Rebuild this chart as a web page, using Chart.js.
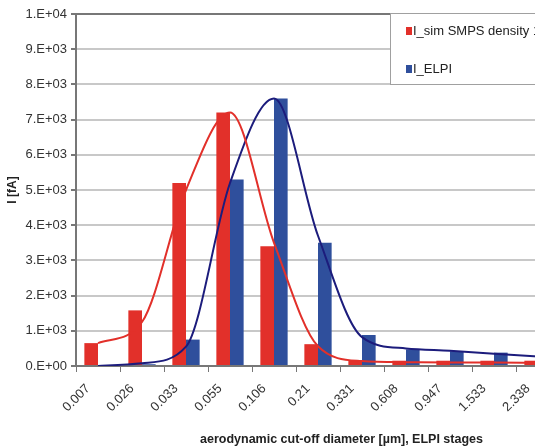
<!DOCTYPE html>
<html>
<head>
<meta charset="utf-8">
<script src="https://cdn.jsdelivr.net/npm/chart.js@4"></script>
<style>
  html, body { margin: 0; padding: 0; background: #fff; overflow: hidden; }
  #wrap { width: 580px; height: 448px; }
</style>
</head>
<body>
<div id="wrap"><canvas id="stageChart" width="580" height="448"></canvas></div>
<script>
// ELPI stage cut-off diameters (µm)
var stages = ["0.007", "0.026", "0.033", "0.055", "0.106", "0.21", "0.331", "0.608", "0.947", "1.533", "2.338"];

// bar values, fA
var simSmps = [650, 1580, 5200, 7200, 3400, 620, 170, 150, 150, 150, 150];
var elpi = [10, 50, 750, 5300, 7600, 3500, 880, 470, 420, 380, 300];

// smoothed fit curves read at the stage positions
var simFit = [650, 1250, 5000, 7200, 3500, 560, 140, 110, 100, 100, 90];
var elpiFit = [0, 80, 550, 5200, 7600, 3700, 820, 500, 430, 350, 270];

var red = "#e2302a";
var blue = "#2f4f9c";
var navy = "#1c1c7c";
var font = "'Liberation Sans', Arial, sans-serif";

function sci(v) {
  if (v === 0) return "0.E+00";
  var e = Math.floor(Math.log10(v));
  var m = Math.round(v / Math.pow(10, e));
  return m + ".E+" + (e < 10 ? "0" + e : e);
}

// legend box drawn over the plot, like the Excel original
var boxLegend = {
  id: "boxLegend",
  afterDraw: function (chart) {
    var c = chart.ctx;
    c.save();
    c.fillStyle = "#fff";
    c.fillRect(390, 13, 200, 71);
    c.strokeStyle = "#a0a0a0";
    c.lineWidth = 1;
    c.strokeRect(390.5, 13.5, 200, 71);
    c.font = "13px " + font;
    c.textBaseline = "middle";
    c.textAlign = "left";
    var rows = [31, 69];
    var k = 0;
    chart.data.datasets.forEach(function (ds) {
      if (ds.type === "line") return;
      c.fillStyle = ds.backgroundColor;
      c.fillRect(406, rows[k] - 4, 6, 8);
      c.fillStyle = "#222";
      c.fillText(ds.label, 413, rows[k]);
      k++;
    });
    // x axis title
    c.font = "bold 12.5px " + font;
    c.fillStyle = "#222";
    c.fillText("aerodynamic cut-off diameter [µm], ELPI stages", 200, 440);
    c.restore();
  }
};

new Chart(document.getElementById("stageChart"), {
  type: "bar",
  data: {
    labels: stages,
    datasets: [
      { label: "I_sim SMPS density 1 g/cm³", data: simSmps, backgroundColor: red, order: 1,
        categoryPercentage: 0.62, barPercentage: 1.0 },
      { label: "I_ELPI", data: elpi, backgroundColor: blue, order: 1,
        categoryPercentage: 0.62, barPercentage: 1.0 },
      { type: "line", label: "fit sim", data: simFit, borderColor: red, borderWidth: 2,
        pointRadius: 0, cubicInterpolationMode: "monotone", fill: false, order: 0 },
      { type: "line", label: "fit ELPI", data: elpiFit, borderColor: navy, borderWidth: 2,
        pointRadius: 0, cubicInterpolationMode: "monotone", fill: false, order: 0 }
    ]
  },
  options: {
    responsive: false,
    animation: false,
    devicePixelRatio: 1,
    layout: { padding: { top: 14, right: 20, left: 0, bottom: 0 } },
    plugins: { legend: { display: false }, tooltip: { enabled: false } },
    scales: {
      x: {
        grid: { offset: true, drawOnChartArea: false, drawTicks: true, tickLength: 6, tickColor: "#777", lineWidth: 1 },
        border: { color: "#777", width: 2 },
        ticks: { minRotation: 45, maxRotation: 45, autoSkip: false, color: "#333", padding: 9, labelOffset: -10,
          font: { size: 13, family: font } },
        afterFit: function (s) { s.height = 82; }
      },
      y: {
        min: 0,
        max: 10000,
        ticks: { stepSize: 1000, callback: sci, color: "#333", padding: 4, font: { size: 13, family: font } },
        grid: {
          lineWidth: 2,
          tickLength: 5,
          tickColor: "#777",
          color: function (ctx) { return ctx.tick && ctx.tick.value === 10000 ? "#777" : "#c8c8c8"; }
        },
        border: { color: "#777", width: 2 },
        title: { display: true, text: "I [fA]", color: "#222", padding: { top: 5, bottom: 0 },
          font: { size: 12, weight: "bold", family: font } },
        afterFit: function (s) { s.width = 76; }
      }
    }
  },
  plugins: [boxLegend]
});
</script>
</body>
</html>
